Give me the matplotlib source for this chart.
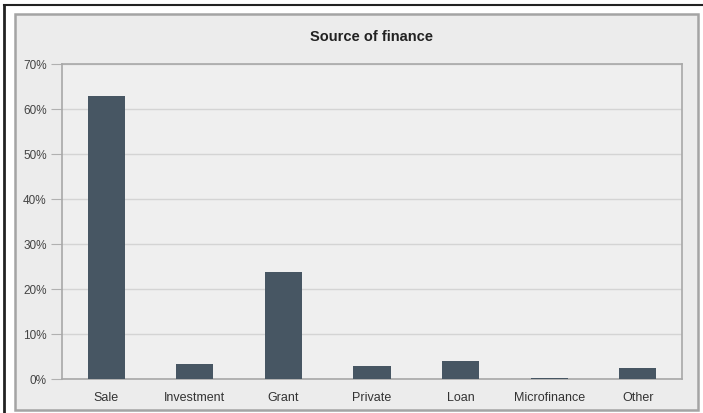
import matplotlib.pyplot as plt
from matplotlib.patches import Rectangle
from matplotlib.lines import Line2D
from matplotlib.ticker import PercentFormatter

plt.rcParams['font.family'] = ['Liberation Sans', 'DejaVu Sans']

categories = ["Sale", "Investment", "Grant", "Private", "Loan", "Microfinance", "Other"]
shares = [62.8, 3.4, 23.7, 3.0, 4.1, 0.3, 2.5]
yticks = [0, 10, 20, 30, 40, 50, 60, 70]

W, H = 703, 414
fig = plt.figure(figsize=(W / 100, H / 100), dpi=100)
fig.patch.set_facecolor("white")

# outer frame pieces
fig.add_artist(Line2D([4 / W, 4 / W], [0, 1 - 6 / H], color="#222222", lw=2))
fig.add_artist(Line2D([4 / W, 1], [1 - 6 / H, 1 - 6 / H], color="#222222", lw=1.5))
fig.add_artist(Rectangle((15 / W, 3 / H), (698 - 15) / W, (411 - 15) / H,
                         transform=fig.transFigure, facecolor="#ececec",
                         edgecolor="#a4a4a4", lw=1.8, zorder=0))

ax = fig.add_axes([62 / W, (H - 380) / H, (682 - 62) / W, (380 - 65) / H])
ax.set_facecolor("#efefef")
x = range(len(categories))
ax.bar(x, shares, width=0.42, color="#475663", zorder=3)
ax.set_xlim(-0.5, len(categories) - 0.5)
ax.set_ylim(0, 70)
ax.set_yticks(yticks)
ax.yaxis.set_major_formatter(PercentFormatter(decimals=0))
ax.set_xticks(list(x))
ax.set_xticklabels(categories)
ax.grid(axis="y", color="#d4d4d4", lw=1, zorder=0)
for s in ax.spines.values():
    s.set_color("#a8a8a8")
    s.set_linewidth(1.2)
ax.tick_params(axis="y", length=8, color="#b0b0b0", labelsize=8.5, labelcolor="#444444", pad=3)
ax.tick_params(axis="x", length=0, labelsize=9, labelcolor="#333333", pad=9)
ax.set_title("Source of finance", fontsize=10.5, fontweight="bold", color="#222222", pad=17)

fig.savefig("out.png", dpi=100, facecolor=fig.get_facecolor())
